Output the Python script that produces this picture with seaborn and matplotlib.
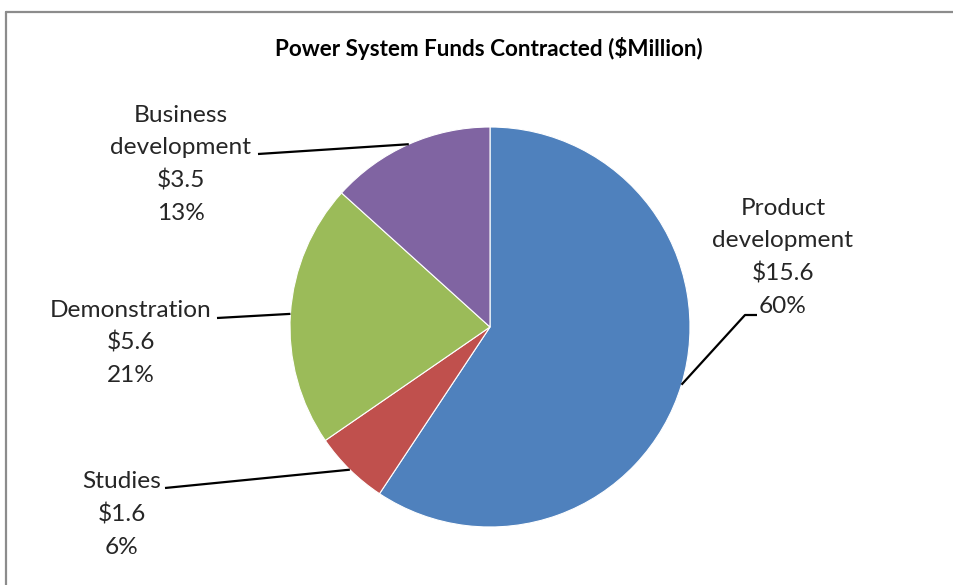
import numpy as np
import matplotlib
matplotlib.use("Agg")
import matplotlib.pyplot as plt
import seaborn as sns
from matplotlib.lines import Line2D

# Funds contracted per category ($ million)
categories = ["Product\ndevelopment", "Studies", "Demonstration", "Business\ndevelopment"]
amounts = [15.6, 1.6, 5.6, 3.5]
amount_labels = ["$15.6", "$1.6", "$5.6", "$3.5"]
percent_labels = ["60%", "6%", "21%", "13%"]
title = "Power System Funds Contracted ($Million)"

palette = ["#4F81BD", "#C0504D", "#9BBB59", "#8064A2"]

sns.set_theme(style="white")
plt.rcParams["font.family"] = ["Lato", "DejaVu Sans"]

W, H = 954, 585
fig = plt.figure(figsize=(W / 100, H / 100), dpi=100)
fig.patch.set_facecolor("white")
ax = fig.add_axes([0, 0, 1, 1])

def py(y):
    """Convert a top-based pixel row to the axes' upward y coordinate."""
    return H - y

center = (490, py(327))
radius = 200
wedges, _ = ax.pie(amounts, colors=palette, startangle=90, counterclock=False,
                   center=center, radius=radius,
                   wedgeprops=dict(linewidth=0.8, edgecolor="white"))
ax.set_xlim(0, W)
ax.set_ylim(0, H)
ax.set_aspect("equal")
ax.axis("off")

# Label layout: (centre x, first line y, leader attach point on the text side, optional elbow)
layout = [
    dict(x=783, y0=208, attach=(757, 315), elbow=(745, 315)),
    dict(x=122, y0=482, attach=(165, 488), elbow=None),
    dict(x=131, y0=310, attach=(217, 318), elbow=None),
    dict(x=181, y0=115, attach=(258, 154), elbow=None),
]
line_step = 32.7
text_color = "#262626"

for w, name, amt, pct, lay in zip(wedges, categories, amount_labels, percent_labels, layout):
    lines = name.split("\n") + [amt, pct]
    for i, ln in enumerate(lines):
        ax.text(lay["x"], py(lay["y0"] + i * line_step), ln, ha="center", va="center",
                fontsize=17.6, color=text_color)
    mid = np.deg2rad((w.theta1 + w.theta2) / 2)
    ex = center[0] + radius * np.cos(mid)
    ey = center[1] + radius * np.sin(mid)
    xs, ys = [ex], [ey]
    if lay["elbow"] is not None:
        xs.append(lay["elbow"][0]); ys.append(py(lay["elbow"][1]))
    xs.append(lay["attach"][0]); ys.append(py(lay["attach"][1]))
    ax.plot(xs, ys, color="black", linewidth=1.6, solid_capstyle="butt")

ax.text(489, py(48), title, ha="center", va="center", fontsize=16.2,
        fontweight="bold", color="black")

# Chart-area border: left and top edges only (the rest lies outside the image)
bx, by = 6 / W, (H - 12) / H
fig.add_artist(Line2D([bx, bx], [0, by], transform=fig.transFigure,
                      color="#8c8c8c", linewidth=1.6))
fig.add_artist(Line2D([bx, 1], [by, by], transform=fig.transFigure,
                      color="#8c8c8c", linewidth=1.6))

fig.savefig("out.png", dpi=100, facecolor="white")
